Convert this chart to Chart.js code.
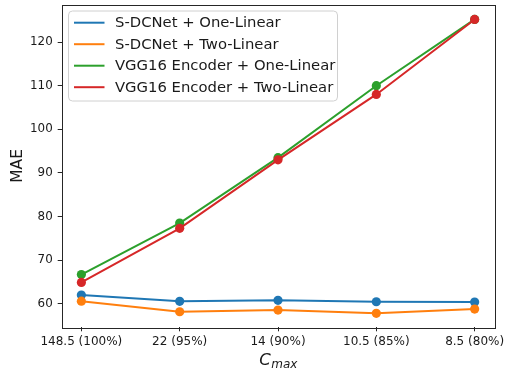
<!DOCTYPE html>
<html>
<head>
<meta charset="utf-8">
<script src="https://cdn.jsdelivr.net/npm/chart.js@4.4.0/dist/chart.umd.min.js"></script>
<style>
html,body{margin:0;padding:0;background:#fff;}
#wrap{width:505px;height:370px;position:relative;}
</style>
</head>
<body>
<div id="wrap"><canvas id="c" width="505" height="370"></canvas></div>
<script>
const categories = ["148.5 (100%)", "22 (95%)", "14 (90%)", "10.5 (85%)", "8.5 (80%)"];
const sdcOne = [62.0, 60.55, 60.78, 60.46, 60.39];
const sdcTwo = [60.6, 58.17, 58.55, 57.8, 58.78];
const vggOne = [66.7, 78.5, 93.5, 110.0, 125.2];
const vggTwo = [64.9, 77.3, 93.0, 108.0, 125.2];
const seriesNames = ["S-DCNet + One-Linear", "S-DCNet + Two-Linear", "VGG16 Encoder + One-Linear", "VGG16 Encoder + Two-Linear"];
const yTicks = [60, 70, 80, 90, 100, 110, 120];
const xLabel = {main: "C", sub: "max"};
const yLabel = "MAE";

const colors = ["#1f77b4", "#ff7f0e", "#2ca02c", "#d62728"];
const FONT = "'DejaVu Sans', sans-serif";

function toPoints(arr){ return arr.map((v,i)=>({x:i, y:v})); }
const allSeries = [sdcOne, sdcTwo, vggOne, vggTwo];

const datasets = allSeries.map((s,k)=>({
  label: seriesNames[k],
  data: toPoints(s),
  borderColor: colors[k],
  backgroundColor: colors[k],
  pointBackgroundColor: colors[k],
  pointBorderColor: colors[k],
  pointRadius: 4.6,
  pointBorderWidth: 0,
  pointHoverRadius: 4.6,
  borderWidth: 2,
  tension: 0,
  order: 3-k,
  clip: false
}));

function zeroPad(s){ s.paddingLeft = 0; s.paddingRight = 0; s.paddingTop = 0; s.paddingBottom = 0; }

const framePlugin = {
  id: 'frame',
  afterDatasetsDraw(chart){
    const {ctx, chartArea:a} = chart;
    ctx.save();
    ctx.strokeStyle = '#262626';
    ctx.lineWidth = 1;
    ctx.strokeRect(Math.round(a.left)+0.5, Math.round(a.top)+0.5, Math.round(a.right-a.left), Math.round(a.bottom-a.top));
    ctx.restore();
  },
  afterDraw(chart){
    const {ctx, chartArea:a} = chart;
    ctx.save();
    // legend box
    const bx = 68.5, by = 11, bw = 269, bh = 90, r = 4;
    ctx.beginPath();
    ctx.moveTo(bx+r, by);
    ctx.lineTo(bx+bw-r, by); ctx.quadraticCurveTo(bx+bw, by, bx+bw, by+r);
    ctx.lineTo(bx+bw, by+bh-r); ctx.quadraticCurveTo(bx+bw, by+bh, bx+bw-r, by+bh);
    ctx.lineTo(bx+r, by+bh); ctx.quadraticCurveTo(bx, by+bh, bx, by+bh-r);
    ctx.lineTo(bx, by+r); ctx.quadraticCurveTo(bx, by, bx+r, by);
    ctx.closePath();
    ctx.fillStyle = 'rgba(255,255,255,0.8)';
    ctx.fill();
    ctx.strokeStyle = '#d0d0d0';
    ctx.lineWidth = 1;
    ctx.stroke();
    const rowY = [22.7, 44.2, 65.7, 87.2];
    ctx.font = "14.8px " + FONT;
    ctx.textBaseline = 'middle';
    ctx.textAlign = 'left';
    chart.data.datasets.forEach((d,k)=>{
      ctx.strokeStyle = d.borderColor;
      ctx.lineWidth = 2;
      ctx.beginPath();
      ctx.moveTo(74, rowY[k]); ctx.lineTo(104.5, rowY[k]);
      ctx.stroke();
      ctx.fillStyle = '#1a1a1a';
      ctx.fillText(d.label, 115, rowY[k]+0.5);
    });
    // x axis title with subscript
    ctx.fillStyle = '#1a1a1a';
    ctx.textBaseline = 'alphabetic';
    ctx.font = "italic 16.5px " + FONT;
    const wMain = ctx.measureText(xLabel.main).width;
    ctx.font = "italic 12px " + FONT;
    const wSub = ctx.measureText(xLabel.sub).width;
    const cx = (a.left + a.right)/2;
    const x0 = cx - (wMain + wSub)/2;
    ctx.font = "italic 16.5px " + FONT;
    ctx.fillText(xLabel.main, x0, 365);
    ctx.font = "italic 12px " + FONT;
    ctx.fillText(xLabel.sub, x0 + wMain + 0.5, 368);
    ctx.restore();
  }
};

new Chart(document.getElementById('c'), {
  type: 'line',
  data: { datasets },
  options: {
    responsive: false,
    animation: false,
    devicePixelRatio: 1,
    layout: { padding: { left: 0, right: 10.7, top: 4, bottom: 0 } },
    plugins: { legend: { display: false }, tooltip: { enabled: false } },
    scales: {
      x: {
        type: 'linear',
        min: -0.2, max: 4.2,
        afterBuildTicks: s => { s.ticks = categories.map((c,i)=>({value:i})); },
        afterFit: s => { s.height = 42.7; zeroPad(s); },
        grid: { drawOnChartArea: false, drawTicks: true, tickLength: 4, color: '#262626', lineWidth: 1 },
        border: { display: false },
        ticks: {
          callback: v => categories[v] ?? '',
          font: { family: FONT, size: 12 },
          color: '#1a1a1a',
          padding: 3,
          maxRotation: 0, autoSkip: false
        }
      },
      y: {
        type: 'linear',
        min: 54.6, max: 128.6,
        afterBuildTicks: s => { s.ticks = yTicks.map(v=>({value:v})); },
        afterFit: s => { s.width = 61.7; zeroPad(s); },
        grid: { drawOnChartArea: false, drawTicks: true, tickLength: 4, color: '#262626', lineWidth: 1 },
        border: { display: false },
        ticks: {
          font: { family: FONT, size: 11.9 },
          color: '#1a1a1a',
          padding: 5
        },
        title: {
          display: true,
          text: yLabel,
          font: { family: FONT, size: 15.5 },
          color: '#1a1a1a',
          padding: { top: 9, bottom: 0 }
        }
      }
    }
  },
  plugins: [framePlugin]
});
</script>
</body>
</html>
